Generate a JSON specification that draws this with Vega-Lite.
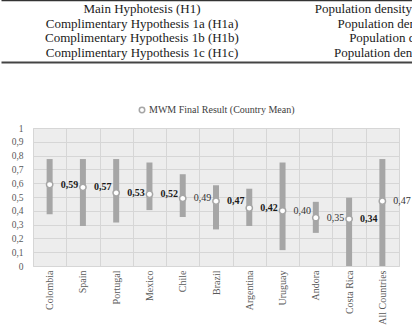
{
  "$schema": "https://vega.github.io/schema/vega-lite/v6.json",
  "padding": 0,
  "background": "white",
  "spacing": 42,
  "center": false,
  "resolve": {"legend": {"fill": "independent"}},
  "config": {
    "locale": {"number": {"decimal": ",", "thousands": ".", "grouping": [3], "currency": ["", " €"]}},
    "font": "Liberation Serif",
    "view": {"stroke": null},
    "text": {"font": "Liberation Serif"},
    "axis": {"labelFont": "Liberation Serif"},
    "legend": {"labelFont": "Liberation Serif", "layout": {"top": {"anchor": "middle"}}}
  },
  "vconcat": [
    {
      "width": 380,
      "height": 62,
      "data": {
        "values": [
          {"row": 1, "hypothesis": "Main Hyphotesis (H1)", "description": "Population density e"},
          {"row": 2, "hypothesis": "Complimentary Hypothesis 1a (H1a)", "description": "Population dens"},
          {"row": 3, "hypothesis": "Complimentary Hypothesis 1b (H1b)", "description": "Population de"},
          {"row": 4, "hypothesis": "Complimentary Hypothesis 1c (H1c)", "description": "Population densi"}
        ]
      },
      "transform": [{"fold": ["hypothesis", "description"], "as": ["column", "content"]}],
      "encoding": {
        "y": {"field": "row", "type": "ordinal", "scale": {"type": "point", "padding": 0.6}, "axis": null},
        "text": {"field": "content"}
      },
      "layer": [
        {
          "transform": [{"filter": "datum.column === 'hypothesis'"}],
          "mark": {"type": "text", "align": "center", "baseline": "middle", "dx": 38, "font": "Liberation Serif", "fontSize": 13, "color": "#1a1a1a"},
          "encoding": {
            "x": {
              "field": "column", "type": "nominal",
              "scale": {"type": "band", "domain": ["hypothesis", "description"], "range": [-32, 380], "paddingInner": 0, "paddingOuter": 0},
              "axis": {"orient": "top", "title": null, "labels": false, "ticks": false, "grid": false, "domainColor": "#333333", "domainWidth": 1.5}
            }
          }
        },
        {
          "transform": [{"filter": "datum.column === 'description'"}],
          "mark": {"type": "text", "align": "right", "baseline": "middle", "dx": 8, "font": "Liberation Serif", "fontSize": 13, "color": "#1a1a1a"},
          "encoding": {
            "x": {
              "field": "column", "type": "nominal", "bandPosition": 1,
              "axis": {"orient": "bottom", "title": null, "labels": false, "ticks": false, "grid": false, "domainColor": "#444444", "domainWidth": 2}
            }
          }
        }
      ],
      "resolve": {"axis": {"x": "independent"}}
    },
    {
      "width": 366,
      "height": 138,
      "view": {"fill": "#ededed", "stroke": "#d6d6d6"},
      "data": {
        "values": [
          {"country": "Colombia", "mean": 0.59, "low": 0.375, "high": 0.775},
          {"country": "Spain", "mean": 0.57, "low": 0.29, "high": 0.775},
          {"country": "Portugal", "mean": 0.53, "low": 0.315, "high": 0.775},
          {"country": "Mexico", "mean": 0.52, "low": 0.405, "high": 0.75},
          {"country": "Chile", "mean": 0.49, "low": 0.355, "high": 0.665},
          {"country": "Brazil", "mean": 0.47, "low": 0.265, "high": 0.585},
          {"country": "Argentina", "mean": 0.42, "low": 0.29, "high": 0.56},
          {"country": "Uruguay", "mean": 0.40, "low": 0.115, "high": 0.75},
          {"country": "Andora", "mean": 0.35, "low": 0.24, "high": 0.465},
          {"country": "Costa Rica", "mean": 0.34, "low": 0, "high": 0.495},
          {"country": "All Countries", "mean": 0.47, "low": 0, "high": 0.775}
        ]
      },
      "encoding": {
        "x": {
          "field": "country", "type": "nominal", "sort": null,
          "scale": {"type": "band", "paddingInner": 0, "paddingOuter": 0},
          "axis": {
            "title": null, "labelAngle": -90, "labelFont": "Liberation Serif", "labelFontSize": 10, "labelColor": "#595959",
            "labelPadding": 4, "ticks": false, "domain": false,
            "grid": true, "tickBand": "extent", "gridColor": "#d6d6d6", "gridWidth": 1
          }
        }
      },
      "layer": [
        {
          "mark": {"type": "bar", "size": 6, "color": "#a6a6a6"},
          "encoding": {
            "y": {
              "field": "low", "type": "quantitative", "title": null,
              "scale": {"domain": [0, 1], "nice": false},
              "axis": {
                "values": [0, 0.1, 0.2, 0.3, 0.4, 0.5, 0.6, 0.7, 0.8, 0.9, 1],
                "format": ".1~f", "domain": false, "ticks": false, "labelPadding": 10,
                "labelOverlap": false, "minExtent": 32, "maxExtent": 32,
                "labelFont": "Liberation Serif", "labelFontSize": 9.5, "labelColor": "#595959",
                "gridColor": "#d6d6d6", "gridWidth": 1
              }
            },
            "y2": {"field": "high"}
          }
        },
        {
          "mark": {"type": "point", "filled": true, "size": 40, "stroke": "#a6a6a6", "strokeWidth": 1.5, "opacity": 1},
          "encoding": {
            "y": {
              "field": "mean", "type": "quantitative", "title": null,
              "axis": {
                "values": [0, 0.1, 0.2, 0.3, 0.4, 0.5, 0.6, 0.7, 0.8, 0.9, 1],
                "format": ".1~f", "domain": false, "ticks": false, "labelPadding": 10,
                "labelOverlap": false, "minExtent": 32, "maxExtent": 32,
                "labelFont": "Liberation Serif", "labelFontSize": 9.5, "labelColor": "#595959",
                "gridColor": "#d6d6d6", "gridWidth": 1
              }
            },
            "fill": {
              "datum": "MWM Final Result (Country Mean)", "type": "nominal",
              "scale": {"range": ["#ffffff"]},
              "legend": {
                "orient": "top", "title": null, "symbolType": "circle", "symbolSize": 30,
                "symbolStrokeColor": "#a6a6a6", "symbolStrokeWidth": 1.5,
                "labelFont": "Liberation Serif", "labelFontSize": 10, "labelColor": "#404040", "labelOffset": 2, "offset": 12
              }
            }
          }
        },
        {
          "transform": [{"filter": {"field": "country", "oneOf": ["Colombia", "Spain", "Portugal", "Mexico", "Brazil", "Argentina", "Costa Rica"]}}],
          "mark": {"type": "text", "align": "left", "baseline": "middle", "dx": 11, "font": "Liberation Serif", "fontSize": 10, "fontWeight": "bold", "color": "#1a1a1a"},
          "encoding": {
            "y": {
              "field": "mean", "type": "quantitative", "title": null,
              "axis": {
                "values": [0, 0.1, 0.2, 0.3, 0.4, 0.5, 0.6, 0.7, 0.8, 0.9, 1],
                "format": ".1~f", "domain": false, "ticks": false, "labelPadding": 10,
                "labelOverlap": false, "minExtent": 32, "maxExtent": 32,
                "labelFont": "Liberation Serif", "labelFontSize": 9.5, "labelColor": "#595959",
                "gridColor": "#d6d6d6", "gridWidth": 1
              }
            },
            "text": {"field": "mean", "type": "quantitative", "format": ".2f"}
          }
        },
        {
          "transform": [{"filter": {"not": {"field": "country", "oneOf": ["Colombia", "Spain", "Portugal", "Mexico", "Brazil", "Argentina", "Costa Rica"]}}}],
          "mark": {"type": "text", "align": "left", "baseline": "middle", "dx": 11, "font": "Liberation Serif", "fontSize": 10, "color": "#333333"},
          "encoding": {
            "y": {
              "field": "mean", "type": "quantitative", "title": null,
              "axis": {
                "values": [0, 0.1, 0.2, 0.3, 0.4, 0.5, 0.6, 0.7, 0.8, 0.9, 1],
                "format": ".1~f", "domain": false, "ticks": false, "labelPadding": 10,
                "labelOverlap": false, "minExtent": 32, "maxExtent": 32,
                "labelFont": "Liberation Serif", "labelFontSize": 9.5, "labelColor": "#595959",
                "gridColor": "#d6d6d6", "gridWidth": 1
              }
            },
            "text": {"field": "mean", "type": "quantitative", "format": ".2f"}
          }
        }
      ]
    }
  ]
}
